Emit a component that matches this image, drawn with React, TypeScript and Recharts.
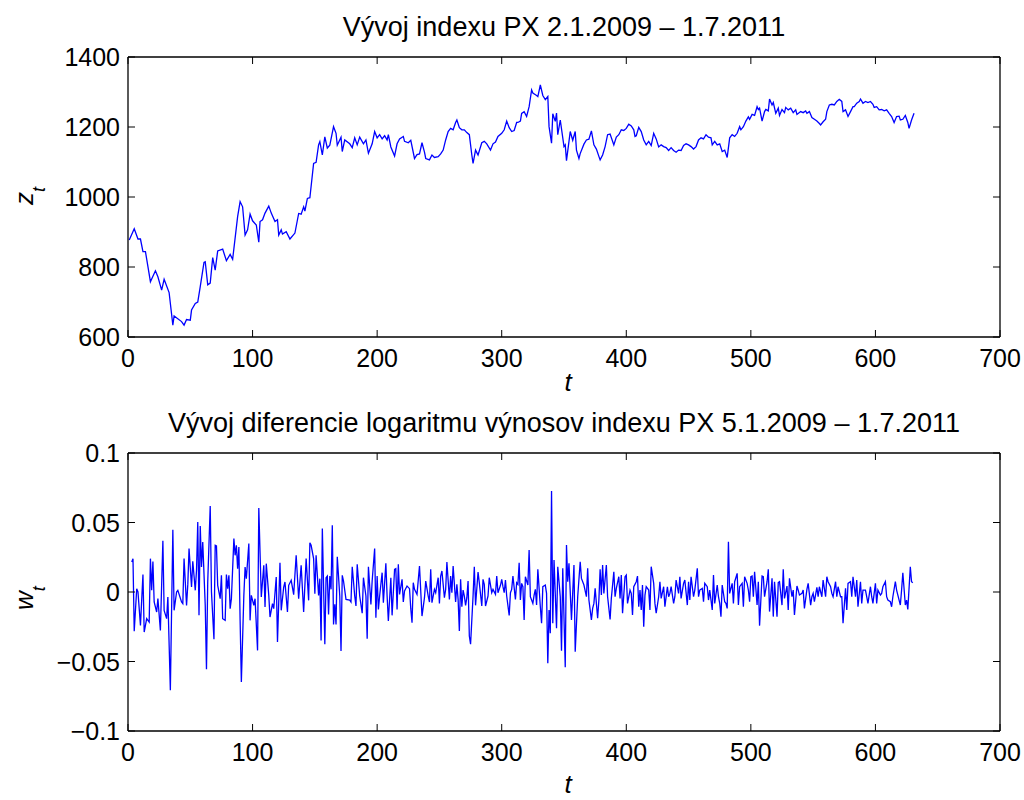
import { LineChart, Line, XAxis, YAxis } from "recharts";

const FONT = '"Liberation Sans", Arial, Helvetica, sans-serif';
const BLUE = "#0000ff";
const TICK_LEN = 7;

const X_TICKS = [0, 100, 200, 300, 400, 500, 600, 700];
const Z_TICKS = [600, 800, 1000, 1200, 1400];
const W_TICKS = [-0.1, -0.05, 0, 0.05, 0.1];

const TITLE_TOP = "Vývoj indexu PX 2.1.2009 – 1.7.2011";
const TITLE_BOTTOM = "Vývoj diferencie logaritmu výnosov indexu PX 5.1.2009 – 1.7.2011";

// PX index (z_t)
const zT = [
  1, 5, 8, 10, 12, 14, 16, 18, 22, 24,
  27, 29, 33, 36, 37, 43, 45, 47, 50, 51,
  54, 56, 58, 61, 62, 64, 66, 68, 70, 72,
  76, 79, 82, 84, 88, 90, 92, 94, 96, 98,
  100, 103, 105, 106, 108, 110, 113, 115, 118, 120,
  121, 123, 124, 127, 130, 134, 137, 139, 141, 142,
  144, 146, 149, 151, 153, 154, 156, 158, 160, 162,
  165, 167, 168, 171, 172, 174, 178, 180, 182, 184,
  186, 189, 191, 193, 196, 198, 200, 202, 204, 206,
  208, 209, 211, 214, 216, 218, 221, 222, 225, 227,
  230, 232, 234, 236, 238, 239, 242, 244, 246, 249,
  251, 253, 255, 257, 259, 261, 263, 264, 266, 268,
  270, 272, 274, 276, 277, 279, 281, 284, 286, 288,
  291, 293, 295, 297, 300, 302, 304, 306, 308, 310,
  312, 313, 315, 316, 318, 320, 322, 324, 325, 328,
  329, 331, 333, 335, 337, 338, 340, 341, 343, 344,
  345, 347, 350, 351, 352, 354, 355, 357, 359, 360,
  362, 363, 366, 368, 370, 372, 374, 376, 378, 379,
  381, 383, 385, 387, 390, 392, 394, 396, 398, 400,
  402, 404, 406, 407, 408, 410, 412, 414, 416, 418,
  420, 422, 424, 426, 428, 430, 432, 434, 436, 438,
  440, 442, 444, 446, 448, 450, 452, 454, 456, 458,
  460, 462, 464, 466, 468, 469, 471, 473, 475, 477,
  479, 481, 483, 485, 487, 489, 491, 492, 494, 496,
  498, 499, 501, 503, 505, 506, 507, 509, 511, 512,
  514, 515, 517, 518, 520, 522, 523, 525, 527, 528,
  530, 532, 534, 536, 537, 540, 542, 544, 545, 547,
  549, 551, 553, 555, 556, 558, 560, 561, 563, 565,
  567, 569, 571, 573, 574, 576, 578, 580, 582, 583,
  585, 587, 588, 590, 592, 594, 596, 598, 599, 601,
  603, 605, 607, 609, 611, 613, 615, 617, 619, 620,
  622, 624, 626, 627, 629, 631,
];
const zVal = [
  877, 909, 880, 880, 844, 844, 801, 758, 789, 772,
  734, 765, 727, 634, 660, 644, 634, 650, 648, 677,
  696, 700, 744, 813, 815, 749, 754, 827, 791, 846,
  851, 818, 836, 822, 944, 987, 972, 891, 906, 951,
  932, 920, 871, 930, 935, 954, 974, 954, 930, 935,
  891, 906, 894, 901, 880, 897, 953, 951, 972, 960,
  996, 998, 1096, 1099, 1149, 1158, 1120, 1172, 1140, 1148,
  1201, 1182, 1148, 1171, 1130, 1163, 1152, 1141, 1169, 1149,
  1171, 1152, 1163, 1125, 1152, 1187, 1169, 1178, 1166, 1175,
  1163, 1178, 1143, 1117, 1152, 1166, 1173, 1159, 1155, 1162,
  1110, 1121, 1123, 1155, 1128, 1110, 1106, 1120, 1113, 1115,
  1123, 1134, 1163, 1187, 1196, 1192, 1213, 1220, 1198, 1192,
  1192, 1184, 1178, 1120, 1096, 1134, 1120, 1155, 1159, 1152,
  1134, 1152, 1157, 1173, 1182, 1192, 1217, 1198, 1187, 1190,
  1213, 1213, 1217, 1239, 1244, 1230, 1258, 1306, 1297, 1290,
  1287, 1320, 1290, 1278, 1287, 1201, 1154, 1238, 1216, 1240,
  1178, 1220, 1144, 1149, 1104, 1159, 1187, 1162, 1187, 1134,
  1110, 1124, 1151, 1163, 1165, 1189, 1149, 1137, 1116, 1106,
  1120, 1144, 1178, 1180, 1149, 1171, 1178, 1192, 1190, 1196,
  1208, 1203, 1192, 1173, 1175, 1199, 1187, 1163, 1149, 1159,
  1147, 1182, 1166, 1143, 1149, 1144, 1141, 1133, 1141, 1133,
  1128, 1134, 1133, 1147, 1152, 1149, 1144, 1137, 1144, 1163,
  1169, 1166, 1178, 1171, 1169, 1149, 1159, 1149, 1152, 1130,
  1134, 1113, 1169, 1178, 1173, 1182, 1201, 1192, 1201, 1217,
  1229, 1222, 1236, 1233, 1258, 1250, 1254, 1217, 1244, 1250,
  1246, 1280, 1263, 1270, 1239, 1254, 1233, 1250, 1241, 1256,
  1249, 1254, 1241, 1249, 1236, 1244, 1241, 1246, 1239, 1244,
  1227, 1222, 1217, 1210, 1206, 1215, 1222, 1244, 1263, 1265,
  1263, 1273, 1279, 1273, 1244, 1249, 1230, 1244, 1258, 1258,
  1268, 1273, 1280, 1268, 1273, 1270, 1273, 1265, 1256, 1258,
  1249, 1250, 1246, 1249, 1239, 1230, 1213, 1230, 1231, 1220,
  1222, 1233, 1213, 1196, 1220, 1239,
];

// log-return differences (w_t)
const wT = [
  3, 4, 5, 7, 8, 10, 12, 13, 15, 17,
  18, 19, 20, 21, 23, 24, 26, 28, 29, 31,
  32, 34, 36, 37, 39, 40, 43, 44, 45, 47,
  48, 49, 51, 52, 54, 55, 56, 57, 58, 59,
  60, 62, 63, 64, 66, 67, 69, 70, 71, 72,
  74, 75, 76, 78, 79, 80, 81, 82, 83, 85,
  86, 87, 88, 89, 90, 91, 93, 94, 95, 97,
  98, 99, 101, 102, 104, 105, 107, 109, 110, 111,
  113, 114, 116, 117, 119, 120, 122, 123, 125, 126,
  128, 129, 131, 133, 135, 137, 139, 141, 143, 145,
  146, 147, 149, 150, 151, 153, 154, 155, 156, 158,
  159, 160, 161, 162, 163, 164, 165, 166, 167, 168,
  170, 171, 172, 173, 175, 178, 179, 180, 182, 183,
  184, 186, 188, 189, 191, 192, 193, 195, 196, 198,
  199, 200, 201, 202, 204, 205, 207, 208, 209, 211,
  212, 214, 215, 216, 217, 218, 220, 221, 222, 224,
  226, 227, 228, 229, 230, 232, 234, 236, 238, 239,
  241, 242, 243, 244, 246, 247, 249, 250, 251, 252,
  254, 255, 256, 258, 259, 260, 261, 263, 264, 265,
  266, 267, 268, 269, 270, 271, 272, 273, 274, 275,
  277, 278, 279, 281, 282, 284, 285, 286, 287, 289,
  290, 292, 293, 295, 296, 297, 299, 300, 301, 302,
  303, 304, 306, 307, 308, 309, 311, 312, 313, 314,
  315, 316, 317, 318, 319, 321, 322, 323, 325, 326,
  327, 328, 329, 331, 332, 333, 335, 336, 337, 338,
  339, 340, 341, 342, 344, 345, 347, 348, 349, 351,
  352, 353, 354, 356, 358, 359, 361, 363, 364, 366,
  368, 369, 370, 372, 373, 374, 375, 377, 378, 379,
  380, 381, 382, 384, 385, 387, 388, 390, 391, 392,
  394, 395, 396, 397, 399, 400, 401, 403, 404, 405,
  406, 408, 409, 410, 411, 412, 413, 414, 415, 416,
  418, 419, 420, 422, 423, 424, 426, 427, 428, 430,
  431, 433, 434, 435, 436, 438, 439, 440, 442, 443,
  444, 446, 447, 449, 450, 451, 452, 454, 455, 457,
  458, 459, 461, 462, 463, 465, 466, 467, 469, 470,
  471, 473, 474, 475, 476, 477, 479, 480, 481, 482,
  483, 485, 486, 487, 489, 490, 491, 493, 494, 495,
  497, 498, 499, 500, 501, 502, 503, 505, 506, 507,
  509, 510, 511, 513, 514, 515, 517, 518, 519, 521,
  522, 523, 525, 526, 527, 529, 530, 531, 533, 534,
  535, 537, 538, 539, 541, 542, 543, 545, 546, 548,
  549, 550, 551, 553, 554, 555, 557, 558, 560, 561,
  562, 564, 565, 566, 568, 569, 570, 572, 573, 574,
  576, 577, 578, 580, 581, 582, 584, 585, 586, 588,
  589, 590, 592, 593, 594, 596, 597, 598, 600, 601,
  602, 604, 605, 606, 608, 609, 610, 612, 613, 614,
  616, 617, 618, 620, 621, 622, 624, 625, 626, 628,
  629, 630,
];
const wVal = [
  0.0216, 0.024, -0.0283, 0.0024, 0, -0.024, 0.0125, -0.0288, -0.0192, -0.0216,
  0.024, 0.0012, 0.022, -0.0072, -0.0144, -0.0048, -0.0276, 0.0369, -0.0132, -0.0192,
  -0.0036, -0.0707, 0.0448, -0.0132, 0, 0.0012, -0.0072, -0.0084, 0.024, -0.0096,
  0.0053, 0.0312, 0.0036, 0.0221, 0.0012, 0.0156, 0.0504, -0.0168, 0.0475, 0.018,
  0.036, -0.0096, -0.0556, 0.0072, 0.0619, 0, -0.034, 0.0336, 0.0331, 0.0048,
  -0.0048, 0.012, -0.0192, -0.0204, 0.0125, 0.0024, 0.012, -0.012, -0.0048, 0.0384,
  0.0264, 0.0336, 0.0168, 0.0324, -0.0204, -0.0647, -0.0024, 0.018, 0.0096, 0.0348,
  -0.0204, -0.0024, -0.0096, -0.0048, -0.042, 0.0604, -0.0036, 0.0192, -0.0108, 0.0204,
  -0.0024, -0.018, -0.0084, -0.012, 0.0108, -0.036, 0.0211, -0.0132, 0.0036, 0.0072,
  -0.0144, 0.0048, 0.0084, -0.0019, 0.0264, -0.0048, 0.0192, -0.0144, 0.024, -0.006,
  0.0355, 0.0336, 0.024, -0.0012, 0.0264, -0.0024, 0.0096, -0.0348, 0.0456, -0.0376,
  0.0103, 0.0115, -0.0161, 0.0115, 0.0019, 0.048, -0.0233, -0.0089, -0.0233, 0.0254,
  -0.0029, -0.0424, 0.012, 0.0079, -0.0053, -0.0058, -0.0072, 0.0182, -0.0029, -0.0101,
  0.0199, -0.0029, -0.0153, 0.0103, -0.0029, -0.0336, 0.0182, -0.0089, 0.0079, 0.0312,
  -0.0185, 0.0115, -0.0125, -0.0029, 0.0139, -0.0077, 0.0206, -0.0029, -0.0209, 0.0103,
  -0.0168, 0.0163, 0.0168, -0.0125, 0.0199, -0.0017, 0.0091, -0.0072, 0.0007, 0.0043,
  0.0024, -0.012, -0.0221, 0.0067, 0.0019, -0.0017, 0.0187, -0.0173, -0.0041, 0.0079,
  -0.0029, -0.0072, 0.0163, -0.0077, 0.0019, -0.0005, 0.0103, -0.0082, 0.0115, 0.0151,
  -0.0041, 0.0019, 0.0216, -0.0053, 0.0115, -0.0005, 0.0187, -0.0072, 0.0055, -0.0053,
  -0.0281, 0.0091, -0.0106, 0.0014, -0.0029, -0.0096, -0.0041, 0.0079, -0.0317, -0.0376,
  -0.0029, 0.0182, -0.0096, 0.0144, 0.0067, -0.0101, 0.0091, 0.0055, -0.0101, -0.0029,
  0.0103, -0.0005, 0.0019, -0.0017, 0.0115, -0.0005, 0.0048, 0.0091, 0.0038, -0.0005,
  0.0086, -0.0029, -0.0168, -0.0005, 0.0019, 0.0115, -0.0053, 0.0067, 0.0055, 0.0211,
  -0.0058, 0.0062, 0.0038, -0.0201, 0.011, 0.005, 0.0302, -0.0034, -0.0082, -0.0022,
  0.0019, -0.0094, 0.0163, -0.0106, -0.0225, 0.0038, 0.005, -0.001, -0.0513, -0.0129,
  -0.0297, 0.0727, -0.0225, 0.023, -0.0261, 0.0182, -0.0034, -0.0422, 0.017, -0.0542,
  0.0338, 0.0074, 0.0206, -0.0201, 0.0194, -0.0429, -0.0034, 0.0218, 0.0098, 0.005,
  -0.0034, 0.017, -0.0058, -0.0201, -0.0118, -0.0082, 0.0026, -0.0189, -0.0058, 0.0163,
  -0.0022, 0.0194, -0.001, 0.0194, -0.0034, -0.0197, -0.0046, 0.0146, -0.0034, 0.0026,
  0.011, -0.0046, 0.0122, -0.0153, 0.011, 0.0122, -0.0082, 0.0014, -0.001, -0.0165,
  0.0038, 0.0074, 0.0115, -0.0106, 0.0014, -0.0129, 0.005, -0.0249, -0.0022, 0.0038,
  0.0014, -0.0129, 0.0182, 0.0062, -0.0082, -0.0153, -0.0034, 0.0074, -0.0046, 0.0038,
  -0.0106, 0.0038, -0.0034, -0.001, 0.0038, -0.0082, -0.0034, 0.0086, -0.001, 0.011,
  -0.0046, 0.0062, 0.0086, -0.0094, 0.0074, -0.0058, 0.011, -0.0034, 0.0014, 0.017,
  -0.0034, 0.0014, 0.0026, -0.007, 0.0062, 0.0038, -0.0058, 0.0014, -0.0129, 0.0122,
  -0.0082, 0.005, -0.0034, -0.0082, -0.0177, 0.005, -0.007, -0.0082, -0.0118, 0.0362,
  -0.001, 0.0062, -0.0082, 0.0074, 0.0134, -0.0094, 0.0038, 0.0062, -0.0106, 0.011,
  0.0062, 0.0014, -0.007, 0.011, 0.0115, -0.0034, 0.0146, -0.0094, 0.0074, -0.0242,
  0.0115, 0.011, -0.0034, 0.0074, 0.0163, -0.0141, 0.0098, -0.0177, 0.0074, -0.0177,
  0.0067, 0.0074, -0.0094, 0.0163, -0.0046, 0.0043, -0.0129, 0.0098, -0.0034, 0.0014,
  -0.0165, 0.0043, 0.0014, -0.0022, -0.001, 0.0014, -0.0118, 0.0019, 0.0062, -0.0094,
  -0.0034, -0.001, -0.007, 0.0034, -0.0034, 0.0038, -0.0034, 0.0086, -0.0034, 0.011,
  0.0074, 0.0038, -0.001, -0.0034, 0.0074, -0.0034, 0.0038, -0.0034, -0.0034, -0.0225,
  0.0026, -0.0129, 0.0062, 0.0074, -0.0034, 0.011, -0.0034, 0.0086, -0.0106, 0.0074,
  -0.0082, 0.0014, 0.0014, -0.0034, -0.0082, 0.0038, -0.0034, -0.0082, 0.0062, -0.0082,
  0.0014, -0.0022, -0.001, 0.0038, 0.0074, -0.0034, -0.0058, -0.007, -0.0106, -0.0034,
  0.0074, 0.0014, -0.0022, -0.0094, 0.0014, 0.0139, -0.0094, -0.0058, -0.0125, 0.0182,
  0.0074, 0.0067,
];

const zData = zT.slice(0, zVal.length).map((t, i) => ({ t, v: zVal[i] }));
const wData = wT.slice(0, wVal.length).map((t, i) => ({ t, v: wVal[i] }));

const fmtNum = (v: number) => (v < 0 ? "\u2212" + String(-v) : String(v));

// MATLAB-style ticks: pointing into the box, labels outside
function BottomTick(props: any) {
  const { x, y, payload } = props;
  return (
    <g>
      <line x1={x} x2={x} y1={y} y2={y - TICK_LEN} stroke="#000" />
      <text x={x} y={y + 30} textAnchor="middle" fontSize={25} fontFamily={FONT} fill="#000">
        {fmtNum(payload.value)}
      </text>
    </g>
  );
}

function TopTick(props: any) {
  const { x, y } = props;
  return <line x1={x} x2={x} y1={y} y2={y + TICK_LEN} stroke="#000" />;
}

function LeftTick(props: any) {
  const { x, y, payload } = props;
  return (
    <g>
      <line x1={x} x2={x + TICK_LEN} y1={y} y2={y} stroke="#000" />
      <text x={x - 8} y={y + 9} textAnchor="end" fontSize={25} fontFamily={FONT} fill="#000">
        {fmtNum(payload.value)}
      </text>
    </g>
  );
}

function RightTick(props: any) {
  const { x, y } = props;
  return <line x1={x} x2={x - TICK_LEN} y1={y} y2={y} stroke="#000" />;
}

const axisLine = { stroke: "#000", strokeWidth: 1.3 };

function Panel({ data, domain, yTicks, marginTop, marginBottom, top }: any) {
  return (
    <div style={{ position: "absolute", left: 0, top }}>
      <LineChart
        width={1024}
        height={400}
        data={data}
        margin={{ top: marginTop - 1, right: 23, bottom: marginBottom, left: 68 }}
      >
        <XAxis
          dataKey="t"
          type="number"
          domain={[0, 700]}
          ticks={X_TICKS}
          interval={0}
          allowDataOverflow
          height={30}
          tickSize={0}
          tickMargin={0}
          axisLine={axisLine}
          tick={(p: any) => <BottomTick {...p} />}
        />
        <XAxis
          xAxisId="top"
          orientation="top"
          dataKey="t"
          type="number"
          domain={[0, 700]}
          ticks={X_TICKS}
          interval={0}
          allowDataOverflow
          height={1}
          tickSize={0}
          tickMargin={0}
          axisLine={axisLine}
          tick={(p: any) => <TopTick {...p} />}
        />
        <YAxis
          type="number"
          domain={domain}
          ticks={yTicks}
          interval={0}
          allowDataOverflow
          width={60}
          tickSize={0}
          tickMargin={0}
          axisLine={axisLine}
          tick={(p: any) => <LeftTick {...p} />}
        />
        <YAxis
          yAxisId="right"
          orientation="right"
          type="number"
          domain={domain}
          ticks={yTicks}
          interval={0}
          allowDataOverflow
          width={1}
          tickSize={0}
          tickMargin={0}
          axisLine={axisLine}
          tick={(p: any) => <RightTick {...p} />}
        />
        <Line
          type="linear"
          dataKey="v"
          stroke={BLUE}
          strokeWidth={1.3}
          dot={false}
          isAnimationActive={false}
        />
        {/* same series on the mirrored axes, invisible, so the box edges get drawn */}
        <Line
          xAxisId="top"
          yAxisId="right"
          type="linear"
          dataKey="v"
          stroke="none"
          dot={false}
          activeDot={false}
          legendType="none"
          isAnimationActive={false}
        />
      </LineChart>
    </div>
  );
}

export default function App() {
  return (
    <div
      style={{
        position: "absolute",
        left: 0,
        top: 0,
        width: 1024,
        height: 800,
        background: "#fff",
        fontFamily: FONT,
      }}
    >
      <Panel data={zData} domain={[600, 1400]} yTicks={Z_TICKS} marginTop={57} marginBottom={33} top={0} />
      <Panel data={wData} domain={[-0.1, 0.1]} yTicks={W_TICKS} marginTop={53} marginBottom={39} top={400} />
      <svg
        width={1024}
        height={800}
        style={{ position: "absolute", left: 0, top: 0, pointerEvents: "none" }}
      >
        <g fontFamily={FONT} fill="#000">
          <text x={564} y={36} textAnchor="middle" fontSize={27}>
            {TITLE_TOP}
          </text>
          <text x={564} y={432} textAnchor="middle" fontSize={27}>
            {TITLE_BOTTOM}
          </text>
          <text x={568} y={391} textAnchor="middle" fontSize={26} fontStyle="italic">
            t
          </text>
          <text x={568} y={793} textAnchor="middle" fontSize={26} fontStyle="italic">
            t
          </text>
          <text transform="translate(33,205) rotate(-90)" fontSize={26} fontStyle="italic">
            z<tspan fontSize={18} dy={12}>t</tspan>
          </text>
          <text transform="translate(33,610) rotate(-90)" fontSize={26} fontStyle="italic">
            w<tspan fontSize={18} dy={12}>t</tspan>
          </text>
        </g>
      </svg>
    </div>
  );
}
